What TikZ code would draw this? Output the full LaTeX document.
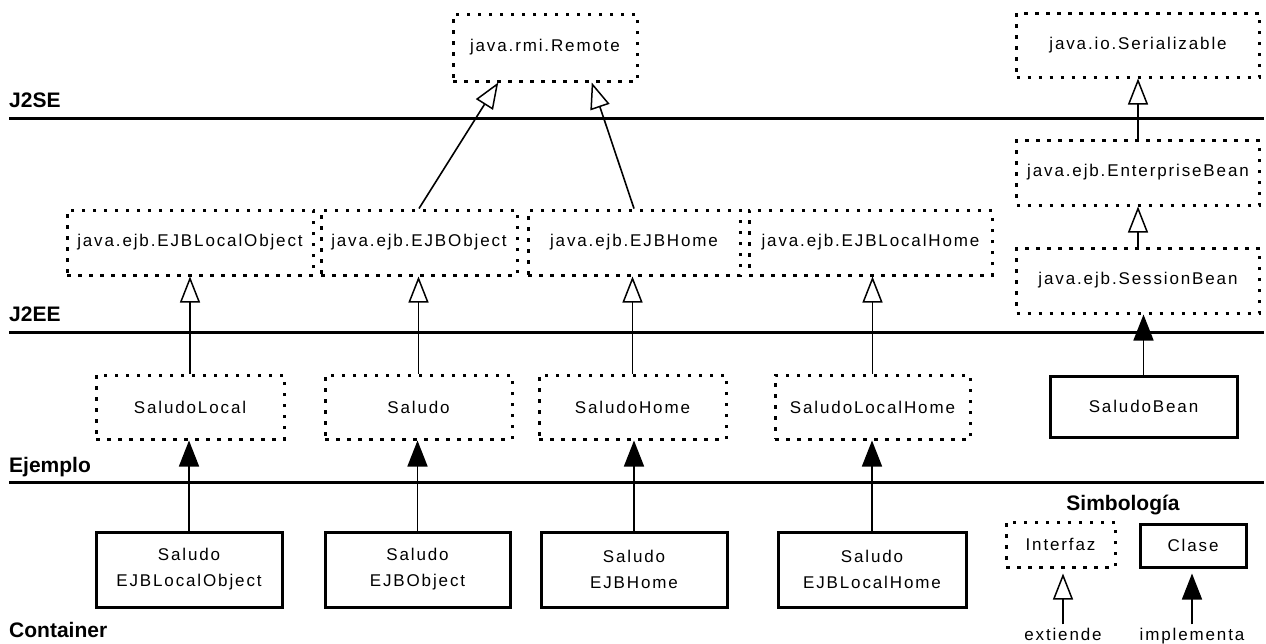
\documentclass[tikz,border=0pt]{standalone}
\usepackage{fontspec}
\setmainfont{Liberation Sans}
\newfontfamily\boxfont[LetterSpace=11]{Liberation Sans}
\usetikzlibrary{arrows.meta,calc}

\begin{document}
\begin{tikzpicture}[x=1pt,y=-1pt,
  boxtext/.style={font=\boxfont\fontsize{17}{26}\selectfont, align=center, inner sep=0pt},
  iface/.style={boxtext, draw, line width=3pt, dash pattern=on 3.5pt off 7.5pt},
  klass/.style={boxtext, draw, line width=3pt},
  extends/.style={line width=1.6pt, -{Triangle[open, length=26pt, width=20pt, line width=1.5pt]}},
  implements/.style={line width=1.6pt, -{Triangle[length=26pt, width=20pt]}},
  layerline/.style={line width=3pt},
  layername/.style={font=\bfseries\fontsize{21}{24}\selectfont, anchor=base west, inner sep=0pt},
  legendtext/.style={boxtext, anchor=base}
]
\useasboundingbox (0,0) rectangle (1266,643);
\fill[white] (0,0) rectangle (1266,643);

% layer separators and their names
\draw[layerline] (9,118) -- (1264,118);
\draw[layerline] (9,332) -- (1264,332);
\draw[layerline] (9,482) -- (1264,482);
\node[layername] (lj2se) at (9,107) {J2SE};
\node[layername] (lj2ee) at (9,321) {J2EE};
\node[layername] (lejem) at (9,472) {Ejemplo};
\node[layername] (lcont) at (9,637) {Container};

% J2SE interfaces
\node[iface, minimum width=184pt, minimum height=67pt] (remote) at (545,47.5) {java.rmi.Remote};
\node[iface, minimum width=243pt, minimum height=64pt] (serial) at (1138,45) {java.io.Serializable};

% J2EE interfaces
\node[iface, minimum width=243pt, minimum height=65pt] (ebean) at (1138,172.5) {java.ejb.EnterpriseBean};
\node[iface, minimum width=243pt, minimum height=65pt] (sbean) at (1138,280.5) {java.ejb.SessionBean};
\node[iface, minimum width=246pt, minimum height=65pt] (elo) at (190,242.5) {java.ejb.EJBLocalObject};
\node[iface, minimum width=196pt, minimum height=65pt] (eo) at (419,242.5) {java.ejb.EJBObject};
\node[iface, minimum width=212pt, minimum height=65pt] (eh) at (634,242.5) {java.ejb.EJBHome};
\node[iface, minimum width=243pt, minimum height=65pt] (elh) at (870.5,242.5) {java.ejb.EJBLocalHome};

% example interfaces and bean
\node[iface, minimum width=188pt, minimum height=64pt] (sl) at (190,407) {SaludoLocal};
\node[iface, minimum width=187pt, minimum height=64pt] (s) at (418.5,407) {Saludo};
\node[iface, minimum width=187pt, minimum height=64pt] (sh) at (632.5,407) {SaludoHome};
\node[iface, minimum width=195pt, minimum height=64pt] (slh) at (872.5,407) {SaludoLocalHome};
\node[klass, minimum width=187pt, minimum height=61pt] (sbn) at (1143.5,406.5) {SaludoBean};

% container classes
\node[klass, minimum width=186pt, minimum height=75pt] (c1) at (189,569.5) {Saludo\\EJBLocalObject};
\node[klass, minimum width=185pt, minimum height=75pt] (c2) at (417.5,569.5) {Saludo\\EJBObject};
\node[klass, minimum width=186pt, minimum height=75pt] (c3) at (634,569.5) {Saludo\\EJBHome};
\node[klass, minimum width=188pt, minimum height=75pt] (c4) at (872,569.5) {Saludo\\EJBLocalHome};

% legend
\node[font=\bfseries\fontsize{21}{24}\selectfont, anchor=base, inner sep=0pt] (simb) at (1123,510) {Simbología};
\node[iface, minimum width=109pt, minimum height=45pt] (liface) at (1060.5,544.5) {Interfaz};
\node[klass, minimum width=106pt, minimum height=43pt] (lclass) at (1193,545.5) {Clase};
\node[legendtext] (lext) at (1063,640) {extiende};
\node[legendtext] (limp) at (1192,640) {implementa};

% inheritance between interfaces
\draw[extends] (eo.north) -- ($(remote.south west)!0.25!(remote.south east)$);
\draw[extends] (eh.north) -- ($(remote.south west)!0.75!(remote.south east)$);
\draw[extends] (ebean.north) -- (serial.south);
\draw[extends] (sbean.north) -- (ebean.south);
\draw[extends] (sl.north) -- (sl.north |- elo.south);
\draw[extends] (s.north) -- (s.north |- eo.south);
\draw[extends] (sh.north) -- (sh.north |- eh.south);
\draw[extends] (slh.north) -- (slh.north |- elh.south);

% implementations
\draw[implements] (sbn.north) -- (sbn.north |- sbean.south);
\draw[implements] (c1.north) -- (c1.north |- sl.south);
\draw[implements] (c2.north) -- (c2.north |- s.south);
\draw[implements] (c3.north) -- (c3.north |- sh.south);
\draw[implements] (c4.north) -- (c4.north |- slh.south);

% legend arrows
\draw[extends, shorten >=5pt] ([yshift=3pt]lext.north) -- (lext.north |- liface.south);
\draw[implements, shorten >=5pt] ([yshift=3pt]limp.north) -- (limp.north |- lclass.south);
\end{tikzpicture}
\end{document}
